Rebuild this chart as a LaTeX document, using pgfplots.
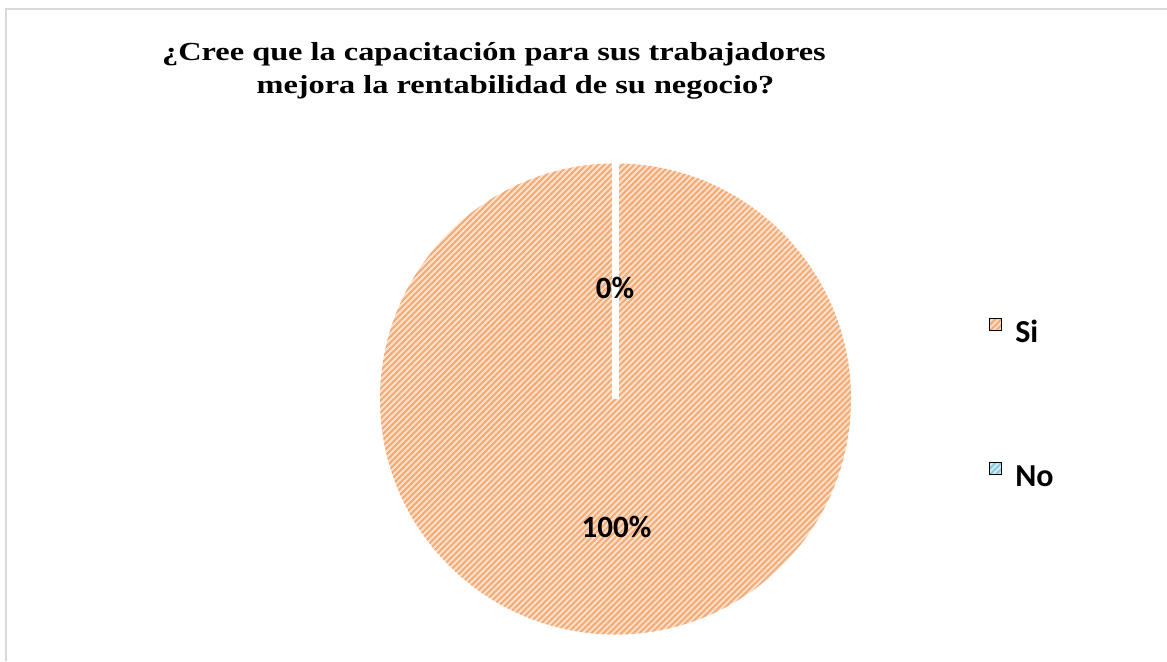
\documentclass[border=0pt]{standalone}
\usepackage{fontspec}
\setmainfont{Liberation Serif}
\newfontfamily\calibri{Carlito}
\usepackage{graphicx}
\usepackage{pgfplots}
\usepackage{pgfplotstable}
\pgfplotsset{compat=1.18}
\usetikzlibrary{patterns.meta}
\definecolor{siback}{HTML}{FBE0CB}
\definecolor{siline}{HTML}{F4AB76}
\definecolor{noback}{HTML}{D3ECF3}
\definecolor{noline}{HTML}{86C8DE}
\definecolor{frame}{HTML}{D9D9D9}

% answers (percent)
\pgfplotstableread{
label value
Si 100
No 0
}\piedata

\pgfplotstablegetelem{0}{value}\of\piedata \let\vSi\pgfplotsretval
\pgfplotstablegetelem{1}{value}\of\piedata \let\vNo\pgfplotsretval
\pgfmathsetmacro\total{\vSi+\vNo}
\pgfmathsetmacro\fSi{\vSi/\total}
\pgfmathsetmacro\fNo{\vNo/\total}
% Excel order: start at 12 o'clock, clockwise
\pgfmathsetmacro\aSiStart{90}
\pgfmathsetmacro\aSiEnd{90-360*\fSi}
\pgfmathsetmacro\aNoEnd{\aSiEnd-360*\fNo}
\def\rad{117.75pt}

\tikzset{
  sifill/.style={fill=siback, postaction={pattern={Lines[angle=45,distance=2.12pt,line width=1.0pt]}, pattern color=siline}},
  nofill/.style={fill=noback, postaction={pattern={Lines[angle=45,distance=2.12pt,line width=1.0pt]}, pattern color=noline}},
}

\begin{document}
\begin{tikzpicture}
\begin{axis}[
  width=583.5pt, height=330.5pt, scale only axis,
  xmin=0, xmax=1167, ymin=0, ymax=661,
  hide axis, clip=false,
  legend cell align=left,
  legend style={at={(0.8475,0.5189)}, anchor=north west, draw=none, fill=none,
    inner sep=0pt, font=\calibri\bfseries\fontsize{16}{18}\selectfont,
    row sep=55.5pt,
    nodes={inner sep=0pt, text height=12pt, text depth=4pt},
    /tikz/every odd column/.append style={column sep=6.5pt}},
]
% slices
\fill[sifill] (axis cs:615.5,262) -- +(\aSiStart:\rad) arc[start angle=\aSiStart, end angle=\aSiEnd, radius=\rad] -- cycle;
\ifdim\vNo pt>0pt
\fill[nofill] (axis cs:615.5,262) -- +(\aSiEnd:\rad) arc[start angle=\aSiEnd, end angle=\aNoEnd, radius=\rad] -- cycle;
\fi
% white slice borders
\draw[white, line width=3.85pt] (axis cs:615.5,262) -- +(\aSiStart:\rad+1pt);
\draw[white, line width=3.85pt] (axis cs:615.5,262) -- +(\aSiEnd:\rad+1pt);
\draw[white, line width=3.85pt] (axis cs:615.5,262) -- +(\aNoEnd:\rad+1pt);
% data labels
\node[font=\calibri\bfseries\fontsize{15.5}{18}\selectfont] at (axis cs:615,373.5) {\vNo\%};
\node[font=\calibri\bfseries\fontsize{15.5}{18}\selectfont] at (axis cs:616.5,134) {\vSi\%};
% title
\node[font=\bfseries\fontsize{13}{15}\selectfont, anchor=base] at (axis cs:494,601) {\scalebox{1.244}[1]{¿Cree que la capacitación para sus trabajadores}};
\node[font=\bfseries\fontsize{13}{15}\selectfont, anchor=base] at (axis cs:515.5,568) {\scalebox{1.244}[1]{mejora la rentabilidad de su negocio?}};
% chart frame
\draw[frame, line width=1pt, overlay] (axis cs:6,0) -- (axis cs:6,652) -- (axis cs:1167,652);
\addlegendimage{legend image code/.code={\fill[sifill] (0pt,2pt) rectangle (6pt,8pt);}}
\addlegendentry{Si}
\addlegendimage{legend image code/.code={\fill[nofill] (0pt,2pt) rectangle (6pt,8pt);}}
\addlegendentry{No}
\end{axis}
\pgfresetboundingbox
\useasboundingbox (0,0) rectangle (583.5pt,330.5pt);
\end{tikzpicture}
\end{document}
